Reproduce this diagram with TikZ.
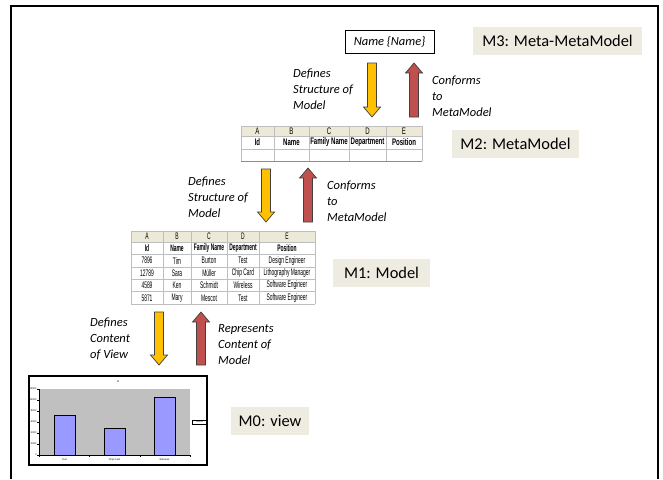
\documentclass[tikz,border=0pt]{standalone}
\usepackage{fontspec}
\setmainfont{Carlito}
\newfontfamily\tabA[FakeStretch=0.52]{Liberation Sans}
\newfontfamily\tabB[FakeStretch=0.64]{Liberation Sans}
\newfontfamily\chartf{Liberation Sans}
\definecolor{arrowY}{HTML}{FFC000}
\definecolor{arrowR}{HTML}{C0504D}
\definecolor{lblbg}{HTML}{EEECE1}
\definecolor{hdrfill}{HTML}{ECE9D8}
\definecolor{gridc}{HTML}{BEBEBE}
\definecolor{plotc}{HTML}{C0C0C0}
\definecolor{barc}{HTML}{9999FF}
\newcommand\blockdown[4]{\filldraw[#1] (#2-4.5,#3) -- (#2+4.5,#3) -- (#2+4.5,#4-10) -- (#2+8.5,#4-10) -- (#2,#4) -- (#2-8.5,#4-10) -- (#2-4.5,#4-10) -- cycle;}
\newcommand\blockup[4]{\filldraw[#1] (#2,#3) -- (#2+8.5,#3+10) -- (#2+4.5,#3+10) -- (#2+4.5,#4) -- (#2-4.5,#4) -- (#2-4.5,#3+10) -- (#2-8.5,#3+10) -- cycle;}
\begin{document}
\begin{tikzpicture}[x=1pt,y=-1pt,
  lvl/.style={fill=lblbg, font=\fontsize{16.4}{20}\selectfont, minimum height=28pt, inner sep=0pt},
  note/.style={font=\fontsize{12.5}{16}\selectfont\itshape, align=left, anchor=north west, inner sep=0pt},
  yarr/.style={fill=arrowY, draw=black!75, line width=0.7pt},
  rarr/.style={fill=arrowR, draw=black!75, line width=0.7pt},
  gridl/.style={draw=gridc, line width=0.5pt},
  cA/.style={font=\tabA\fontsize{9.5}{10}\selectfont, inner sep=0pt},
  cAb/.style={font=\tabA\bfseries\fontsize{9.5}{10}\selectfont, inner sep=0pt},
  cB/.style={font=\tabB\fontsize{9.5}{10}\selectfont, inner sep=0pt},
  cBb/.style={font=\tabB\bfseries\fontsize{9.5}{10}\selectfont, inner sep=0pt},
  tiny/.style={font=\chartf\fontsize{2.5}{3}\selectfont, inner sep=0.3pt}
]
\useasboundingbox (0,0) rectangle (663,479);
\fill[white] (0,0) rectangle (663,479);
\draw[line width=2pt] (11,479) -- (11,6) -- (658,6) -- (658,479);

% level labels
\node[lvl, minimum width=169pt] (m3) at (557.5,41) {M3: Meta-MetaModel};
\node[lvl, minimum width=127pt] (m2) at (515.5,144) {M2: MetaModel};
\node[lvl, minimum width=97pt] (m1) at (381.5,273) {M1: Model};
\node[lvl, minimum width=78pt] (m0) at (270,421) {M0: view};

% M3 element
\node[draw, line width=0.8pt, minimum width=89pt, minimum height=23pt, inner sep=0pt,
  font=\fontsize{12.5}{15}\selectfont\itshape] (nm) at (389.5,41.5) {Name \{Name\}};

% arrows
\blockdown{yarr}{372}{63}{117}
\blockup{rarr}{414}{63}{117}
\blockdown{yarr}{266}{169}{222}
\blockup{rarr}{308}{168}{222}
\blockdown{yarr}{159}{312}{365}
\blockup{rarr}{201}{312}{365}

% notes
\node[note] (t1) at (293,69) {Defines\\Structure of\\Model};
\node[note] (t2) at (432,76) {Conforms\\to\\MetaModel};
\node[note] (t3) at (188,177) {Defines\\Structure of\\Model};
\node[note] (t4) at (327,181) {Conforms\\to\\MetaModel};
\node[note] (t5) at (90,318) {Defines\\Content\\of View};
\node[note] (t6) at (218,324) {Represents\\Content of\\Model};

% M2 table
\fill[hdrfill] (241,126) rectangle (422,136);
\foreach \y in {126,136,149} \draw[gridl] (241,\y) -- (422,\y);
\draw[draw=black!45, line width=0.8pt] (241,161) -- (422,161);
\foreach \x in {241,274,309,349,386,422} \draw[gridl] (\x,126) -- (\x,161);
\foreach \c/\t [count=\i] in {257.5/A,291.5/B,329/C,367.5/D,404/E}
  \node[cB] (m2h\i) at (\c,131) {\t};
\foreach \c/\t [count=\i] in {257.5/Id,291.5/Name,329/Family Name,367.5/Department,404/Position}
  \node[cBb] (m2f\i) at (\c,142.5) {\t};

% M1 table
\fill[hdrfill] (131,231) rectangle (315,242);
\foreach \y in {231,242,254.4,266.8,279.2,291.6,304} \draw[gridl] (131,\y) -- (315,\y);
\foreach \x in {131,163,191,227,259,315} \draw[gridl] (\x,231) -- (\x,304);
\foreach \c/\t [count=\i] in {147/A,177/B,209/C,243/D,287/E}
  \node[cA] (m1h\i) at (\c,236.5) {\t};
\foreach \c/\t [count=\i] in {147/Id,177/Name,209/Family Name,243/Department,287/Position}
  \node[cAb] (m1f\i) at (\c,248.2) {\t};
\foreach \y/\a/\b/\cc/\d/\e [count=\r] in {
  260.6/7896/Tim/Burton/Test/Design Engineer,
  273/12789/Sara/Müller/Chip Card/Lithography Manager,
  285.4/4589/Ken/Schmidt/Wireless/Software Engineer,
  297.8/5871/Mary/Mescot/Test/Software Engineer}{
  \node[cA] (r\r a) at (147,\y) {\a};
  \node[cA] (r\r b) at (177,\y) {\b};
  \node[cA] (r\r c) at (209,\y) {\cc};
  \node[cA] (r\r d) at (243,\y) {\d};
  \node[cA] (r\r e) at (287,\y) {\e};
}

% M0 chart
\draw[line width=1.5pt, fill=white] (29,376) rectangle (207,465);
\fill[plotc] (39,389) rectangle (190,455);
\node[tiny] (ctitle) at (118,382) {Id};
\foreach \b/\t [count=\i] in {54/415,104/428,154/397}
  \draw[fill=barc, line width=0.8pt] (\b,455) rectangle (\b+21,\t);
\draw[line width=0.6pt] (39,389) -- (39,455) -- (190,455);
\foreach \v [count=\i] in {12000,10000,8000,6000,4000,2000,0}{
  \draw[line width=0.4pt] (37,389+11*\i-11) -- (39,389+11*\i-11);
  \node[tiny, anchor=east] (yl\i) at (37,389+11*\i-11) {\v};
}
\foreach \x in {39,89,140,190} \draw[line width=0.4pt] (\x,455) -- (\x,457);
\foreach \c/\t [count=\i] in {64.5/Test,114.5/Chip Card,164.5/Wireless}
  \node[tiny] (xl\i) at (\c,460) {\t};
\node[draw, line width=0.8pt, fill=white, minimum width=14pt, minimum height=4pt, inner sep=0pt,
  font=\chartf\fontsize{2}{2}\selectfont] (leg) at (199.5,422) {Series1};
\end{tikzpicture}
\end{document}
